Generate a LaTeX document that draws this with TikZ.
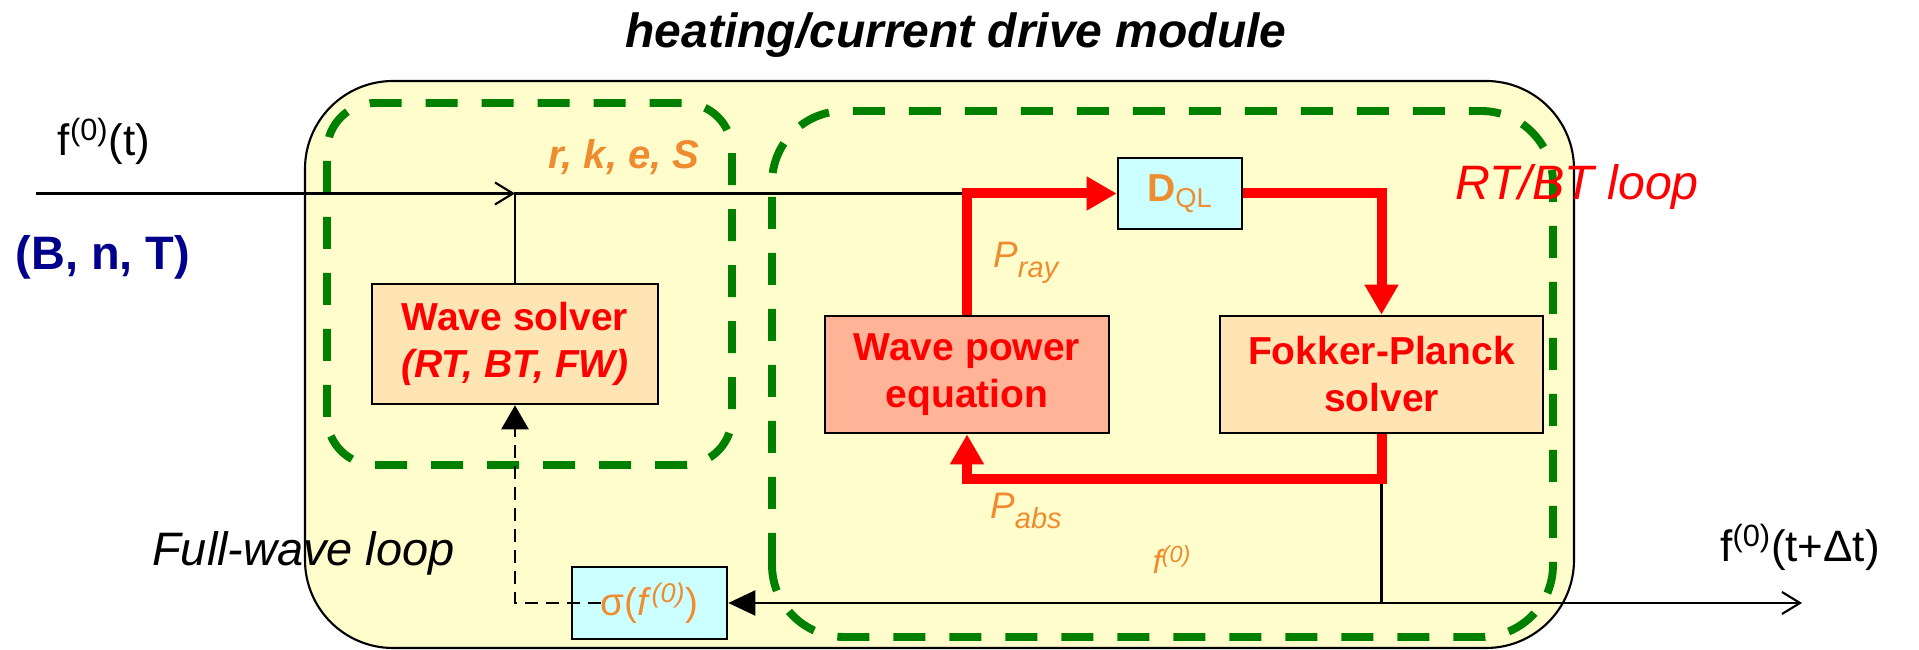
\documentclass[tikz,border=0pt]{standalone}
\usepackage{fontspec}
\setmainfont{Liberation Sans}
\usetikzlibrary{arrows.meta}

\definecolor{amarillo}{RGB}{255,253,204}
\definecolor{verde}{RGB}{0,128,0}
\definecolor{naranja}{RGB}{240,140,48}
\definecolor{marino}{RGB}{0,0,140}
\definecolor{melocoton}{RGB}{255,229,180}
\definecolor{salmon}{RGB}{255,180,152}
\definecolor{celeste}{RGB}{204,255,255}

\newcommand{\letra}[2]{\fontsize{#1}{#2}\selectfont}
\newcommand{\subi}[1]{\raisebox{-0.25em}{\letra{16.5}{20}#1}}

\begin{document}
\begin{tikzpicture}[
    caja/.style={draw, line width=1.5pt, align=center, inner sep=0pt, text=red, font=\letra{22.2}{26.7}\bfseries},
    etiqueta/.style={inner sep=0pt},
    lazo/.style={verde, line width=4.5pt, dash pattern=on 0.64cm off 0.48cm},
    flecharoja/.style={red, line width=5.7pt, -{Triangle[length=0.6cm,width=0.64cm]}},
    flechanegra/.style={line width=1.2pt, -{Triangle[length=0.54cm,width=0.5cm]}},
    flechaabierta/.style={line width=1.2pt, -{Straight Barb[length=0.36cm,width=0.44cm]}}
]
        \useasboundingbox (0,0) rectangle (38.38,13);

        % Modulo
        \draw[fill=amarillo, line width=1.2pt, rounded corners=1.76cm] (6.10,0.04) rectangle (31.48,11.38);
        \node[etiqueta, anchor=base, font=\letra{27.3}{32}\bfseries\itshape] (titulo) at (19.12,12.04) {heating/current drive module};

        % Lazos
        \draw[lazo, rounded corners=0.96cm] (6.54,3.70) rectangle (14.64,10.94);
        \draw[lazo, rounded corners=1.44cm] (15.44,0.26) rectangle (31.06,10.78);

        % Cajas
        \node[caja, fill=melocoton, minimum width=5.72cm, minimum height=2.40cm] (ondas) at (10.30,6.12) {Wave solver\\\itshape (RT, BT, FW)};
        \node[caja, fill=salmon, minimum width=5.68cm, minimum height=2.34cm] (potencia) at (19.34,5.51) {Wave power\\equation};
        \node[caja, fill=melocoton, minimum width=6.46cm, minimum height=2.34cm] (fp) at (27.63,5.51) {Fokker-Planck\\solver};
        \node[caja, fill=celeste, minimum width=2.48cm, minimum height=1.42cm, text=naranja] (dql) at (23.60,9.13) {D\textsubscript{\mdseries QL}};
        \node[caja, fill=celeste, minimum width=3.10cm, minimum height=1.44cm, text=naranja, font=\letra{22}{26}] (sigma) at (12.99,0.94) {σ(\textit{f}\textsuperscript{\itshape(0)})};

        % Entrada y salida
        \coordinate (entrada) at (0.72,9.13);
        \coordinate (salida) at (36.04,0.94);
        \coordinate (bajo) at (fp.south |- sigma.east);
        \draw[flechaabierta] (entrada) -- (ondas.north |- dql.west);
        \draw[line width=1.2pt] (ondas.north) |- (potencia.north |- dql.west);
        \draw[flechaabierta] ([xshift=-0.9cm]bajo) -- (salida);

        % Vuelta de f0
        \draw[flechanegra] (fp.south) |- (sigma.east);
        \draw[line width=1.6pt, dash pattern=on 0.26cm off 0.16cm, -{Triangle[length=0.48cm,width=0.54cm]}] ([xshift=0.6cm]sigma.west) -| (ondas.south);

        % Lazo RT/BT
        \draw[flecharoja] (potencia.north) |- (dql.west);
        \draw[flecharoja] (dql.east) -| (fp.north);
        \draw[flecharoja] (fp.south) -- ++(0,-0.9) -| (potencia.south);

        % Etiquetas
        \node[etiqueta, anchor=base, font=\letra{25}{30}] (ft) at (2.08,9.88) {f\textsuperscript{(0)}(t)};
        \node[etiqueta, anchor=base, text=marino, font=\letra{26.7}{32}\bfseries] (bnt) at (2.06,7.60) {(B, n, T)};
        \node[etiqueta, anchor=base, text=naranja, font=\letra{22.8}{27}\bfseries\itshape] (rkes) at (12.48,9.62) {r, k, e, S};
        \node[etiqueta, anchor=base west, text=naranja, font=\letra{21}{25}\itshape] (pray) at (19.86,7.64) {P\subi{ray}};
        \node[etiqueta, anchor=base west, text=naranja, font=\letra{21}{25}\itshape] (pabs) at (19.80,2.62) {P\subi{abs}};
        \node[etiqueta, anchor=base, text=naranja, font=\letra{19}{23}\itshape] (fcero) at (23.44,1.52) {f\textsuperscript{(0)}};
        \node[etiqueta, anchor=base west, text=red, font=\letra{27.5}{32}\itshape] (rtbt) at (29.10,9.00) {RT/BT loop};
        \node[etiqueta, anchor=base, font=\letra{26.7}{32}\itshape] (fullwave) at (6.07,1.68) {Full-wave loop};
        \node[etiqueta, anchor=base, font=\letra{25}{30}] (ftdt) at (36.0,1.76) {f\textsuperscript{(0)}(t+Δt)};
    \end{tikzpicture}
\end{document}
